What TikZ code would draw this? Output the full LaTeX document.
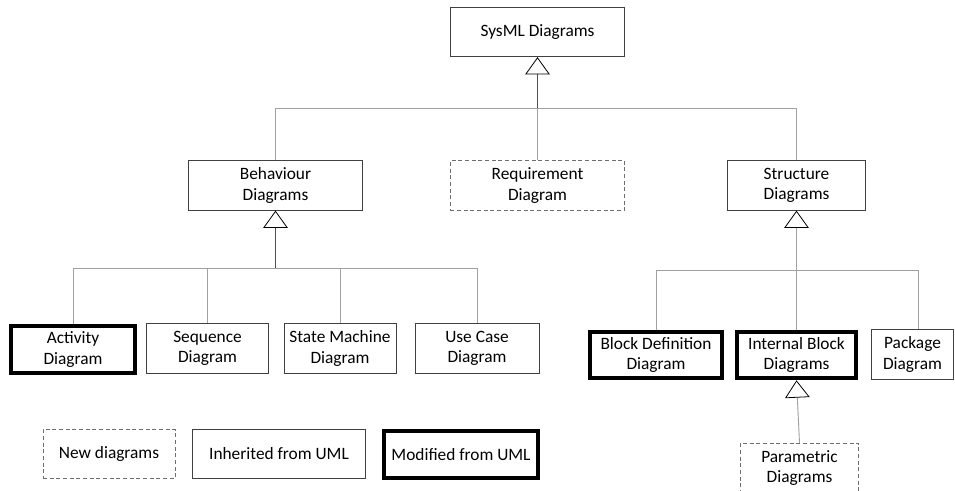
\documentclass[tikz,border=0pt]{standalone}
\usepackage{fontspec}
\setmainfont{Carlito}
\usepackage{tikz}
\usetikzlibrary{arrows.meta}
\definecolor{boxgray}{RGB}{64, 64, 64}
\definecolor{dashgray}{RGB}{110, 110, 110}
\definecolor{linkgray}{RGB}{160, 160, 160}
\definecolor{trunkgray}{RGB}{80, 80, 80}

\tikzset{
  diag/.style={draw=boxgray, line width=0.7pt, minimum height=37pt, align=center,
    inner sep=1pt, font=\fontsize{13}{15.5}\selectfont},
  newdiag/.style={diag, draw=dashgray, dash pattern=on 3pt off 2pt},
  moddiag/.style={diag, draw=black, line width=3pt, minimum height=35pt},
  branch/.style={draw=linkgray, line width=0.6pt},
  gen/.style={draw=trunkgray, line width=0.7pt,
    -{Triangle[open, width=18.5pt, length=13pt, color=black, line width=0.6pt]}}
}

\begin{document}
\begin{tikzpicture}[x=0.75pt, y=-0.75pt]
            \useasboundingbox (0,0) rectangle (955,491);

            \node[diag, minimum width=131pt] (sysml) at (537.5,32) {SysML Diagrams};

            \node[diag, minimum width=131pt] (beh) at (275.5,185.5) {Behaviour\\Diagrams};
            \node[newdiag, minimum width=131pt] (req) at (537.5,185.5) {Requirement\\Diagram};
            \node[diag, minimum width=104pt] (str) at (796.5,185.5) {Structure\\Diagrams};

            \node[moddiag, minimum width=93pt] (act) at (73,349.5) {Activity\\Diagram};
            \node[diag, minimum width=91pt] (seq) at (207.5,348.5) {Sequence\\Diagram};
            \node[diag, minimum width=84pt] (stm) at (340,348.5) {State Machine\\Diagram};
            \node[diag, minimum width=93pt] (ucd) at (477,348.5) {Use Case\\Diagram};

            \node[moddiag, minimum width=99pt] (bdd) at (656,355) {Block Definition\\Diagram};
            \node[moddiag, minimum width=89pt] (ibd) at (796.5,355) {Internal Block\\Diagrams};
            \node[diag, minimum width=61pt] (pkg) at (912.5,354.5) {Package\\Diagram};
            \node[newdiag, minimum width=89pt] (par) at (799.5,468) {Parametric\\Diagrams};

            \node[newdiag, minimum width=99pt] (lnew) at (109,454) {New diagrams};
            \node[diag, minimum width=130pt] (linh) at (279,454) {Inherited from UML};
            \node[moddiag, minimum width=116pt] (lmod) at (461,454.5) {Modified from UML};

            \coordinate (j1) at (537.5,108);
            \draw[branch] (beh.north) |- (str.north |- j1) -- (str.north);
            \draw[branch] (j1) -- (req.north);
            \draw[gen] (j1) -- (sysml.south);

            \coordinate (j2) at (275.5,268);
            \draw[branch] (act.north) |- (ucd.north |- j2) -- (ucd.north);
            \draw[branch] (seq.north) -- (seq.north |- j2);
            \draw[branch] (stm.north) -- (stm.north |- j2);
            \draw[gen] (j2) -- (beh.south);

            \coordinate (j3) at (796.5,270);
            \coordinate (s3) at (918,270);
            \draw[branch] (bdd.north) |- (s3) -- (s3 |- pkg.north);
            \draw[branch] (ibd.north) -- (j3);
            \draw[gen, draw=linkgray] (j3) -- (str.south);

            \draw[gen, draw=linkgray] (par.north) -- (ibd.south);
        \end{tikzpicture}
\end{document}
